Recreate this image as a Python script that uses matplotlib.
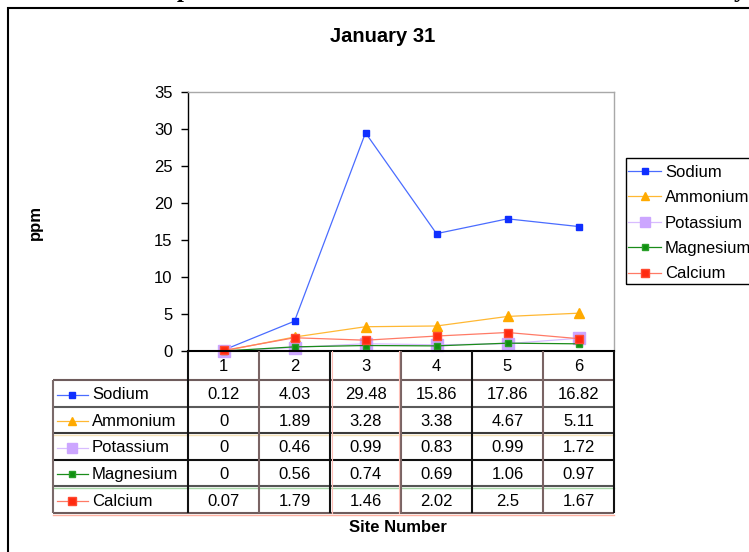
import matplotlib
matplotlib.use("Agg")
import matplotlib.pyplot as plt
from matplotlib.lines import Line2D
from matplotlib.patches import Rectangle

# ---- data -------------------------------------------------------------
sites = ["1", "2", "3", "4", "5", "6"]
series_names = ["Sodium", "Ammonium", "Potassium", "Magnesium", "Calcium"]
sodium = [0.12, 4.03, 29.48, 15.86, 17.86, 16.82]
ammonium = [0, 1.89, 3.28, 3.38, 4.67, 5.11]
potassium = [0, 0.46, 0.99, 0.83, 0.99, 1.72]
magnesium = [0, 0.56, 0.74, 0.69, 1.06, 0.97]
calcium = [0.07, 1.79, 1.46, 2.02, 2.5, 1.67]
y_ticks = [0, 5, 10, 15, 20, 25, 30, 35]

series_values = [sodium, ammonium, potassium, magnesium, calcium]

# ---- styling ----------------------------------------------------------
SANS = ["Liberation Sans", "DejaVu Sans"]
SERIF = ["Liberation Serif", "DejaVu Serif"]
plt.rcParams["font.family"] = SANS
FS = 12

styles = [
    dict(color="#4a6cff", marker="s", ms=5.0, mfc="#0f2fff", mec="#0f2fff"),
    dict(color="#ffb833", marker="^", ms=6.5, mfc="#ffaa00", mec="#ffaa00"),
    dict(color="#d8bcff", marker="s", ms=8.0, mfc="#cca6ff", mec="#cca6ff"),
    dict(color="#1a8c1a", marker="s", ms=5.0, mfc="#109010", mec="#2aa02a"),
    dict(color="#ff7a66", marker="s", ms=6.0, mfc="#ff2a10", mec="#ff4a30"),
]

W, H = 749, 552
fig = plt.figure(figsize=(W / 100, H / 100), dpi=100)


def fx(px):
    return px / W


def fy(py):
    return 1 - py / H


# outer chart frame (runs past the right and bottom edges)
fig.patches.append(Rectangle((fx(8), fy(600)), 1.2, (600 - 7.5) / H,
                             transform=fig.transFigure, fill=False,
                             ec="black", lw=1.5))

# heading of the page, mostly above the visible area
fig.text(fx(47), fy(-3), "Cation Comparison Between the Six Sites on Each Collection Day",
         family=SERIF, weight="bold", fontsize=18, va="baseline", ha="left")

fig.text(fx(383), fy(37), "January 31", ha="center", va="center",
         fontsize=14.5, weight="bold")

# ---- plot area ----------------------------------------------------------
PL, PR, PT, PB = 188, 614, 92, 351
ax = fig.add_axes([fx(PL), fy(PB), (PR - PL) / W, (PB - PT) / H])
x = list(range(1, len(sites) + 1))
handles = []
for name, vals, st in zip(series_names, series_values, styles):
    ln, = ax.plot(x, vals, lw=0.9, clip_on=False, label=name, **st)
    handles.append(ln)

ax.set_xlim(0.5, len(sites) + 0.5)
ax.set_ylim(y_ticks[0], y_ticks[-1])
ax.set_yticks(y_ticks)
ax.set_xticks([])
ax.tick_params(axis="y", length=5, width=1, pad=6, labelsize=FS)
for s in ("top", "right"):
    ax.spines[s].set_color("#a8a8a8")
    ax.spines[s].set_linewidth(1.0)
ax.spines["left"].set_linewidth(1.0)
ax.spines["bottom"].set_linewidth(1.5)

fig.text(fx(35), fy(222), "ppm", rotation=90, ha="center", va="center",
         fontsize=FS, weight="bold")

# ---- data table under the plot ----------------------------------------
TL, TB = 53, 513
col_w = (PR - PL) / len(sites)
label_w = (PL - TL) / col_w
HDR = 29 / 26.4
n_rows = len(series_names)

tax = fig.add_axes([fx(TL), fy(TB), (PR - TL) / W, (TB - PB) / H])
tax.set_xlim(0.5 - label_w, len(sites) + 0.5)
tax.set_ylim(HDR + n_rows, 0)
tax.axis("off")


def px2u(px):
    return 0.5 + (px - PL) / col_w


left = 0.5 - label_w
right = len(sites) + 0.5
bottom = HDR + n_rows

# horizontal rules (dark rule plus a faint tinted companion line)
h_rules = [
    (HDR, "#6e5c5c", None),
    (HDR + 1, "#5a5a5a", None),
    (HDR + 2, "#3a3a3a", "#f6e2b8"),
    (HDR + 3, "#111111", None),
    (HDR + 4, "#555555", "#a8d8a8"),
    (bottom, "#6e5c5c", "#ffb0a0"),
]
for yv, c, tint in h_rules:
    tax.plot([left, right], [yv, yv], color=c, lw=1.5, solid_capstyle="butt",
             clip_on=False)
    if tint:
        tax.plot([left, right], [yv + 0.06, yv + 0.06], color=tint, lw=1.0,
                 clip_on=False)

# vertical rules
v_colors = ["#111111", "#7a6464", "#111111", "#7a6464", "#111111", "#7a6464", "#111111"]
for i, c in enumerate(v_colors):
    xv = 0.5 + i
    tax.plot([xv, xv], [0, bottom], color=c, lw=1.5, solid_capstyle="butt",
             clip_on=False)
tax.plot([left, left], [HDR, bottom], color="#7a6a6a", lw=1.5,
         solid_capstyle="butt", clip_on=False)
tax.plot([2.5 + 0.03, 2.5 + 0.03], [0, bottom], color="#ffc0b8", lw=0.8, clip_on=False)
tax.plot([3.5 - 0.03, 3.5 - 0.03], [0, bottom], color="#ffc0b8", lw=0.8, clip_on=False)

# header row with site numbers
for xi, s in zip(x, sites):
    tax.text(xi, HDR / 2 + 0.04, s, ha="center", va="center", fontsize=FS)

# series rows
for r, (name, vals, st) in enumerate(zip(series_names, series_values, styles)):
    yc = HDR + r + 0.55
    tax.add_line(Line2D([px2u(57), px2u(88)], [yc, yc], color=st["color"], lw=0.9,
                        clip_on=False))
    tax.add_line(Line2D([px2u(72)], [yc], marker=st["marker"], ms=st["ms"] * 0.85,
                        mfc=st["mfc"], mec=st["mec"], ls="none", clip_on=False))
    tax.text(px2u(92), yc, name, ha="left", va="center", fontsize=FS)
    for xi, v in zip(x, vals):
        tax.text(xi, yc, f"{v:g}", ha="center", va="center", fontsize=FS)

fig.text(fx(398), fy(528), "Site Number", ha="center", va="center",
         fontsize=FS, weight="bold")

# ---- legend -------------------------------------------------------------
fig.legend(handles, series_names, loc="upper left",
           bbox_to_anchor=(fx(628), fy(165)), frameon=False, fontsize=FS,
           handlelength=2.0, handletextpad=0.22, labelspacing=0.62,
           borderaxespad=0, borderpad=0, markerscale=0.85)
fig.patches.append(Rectangle((fx(626), fy(284)), 0.3, (284 - 158) / H,
                             transform=fig.transFigure, fill=False,
                             ec="black", lw=1.0))

fig.savefig("out.png", dpi=100)
